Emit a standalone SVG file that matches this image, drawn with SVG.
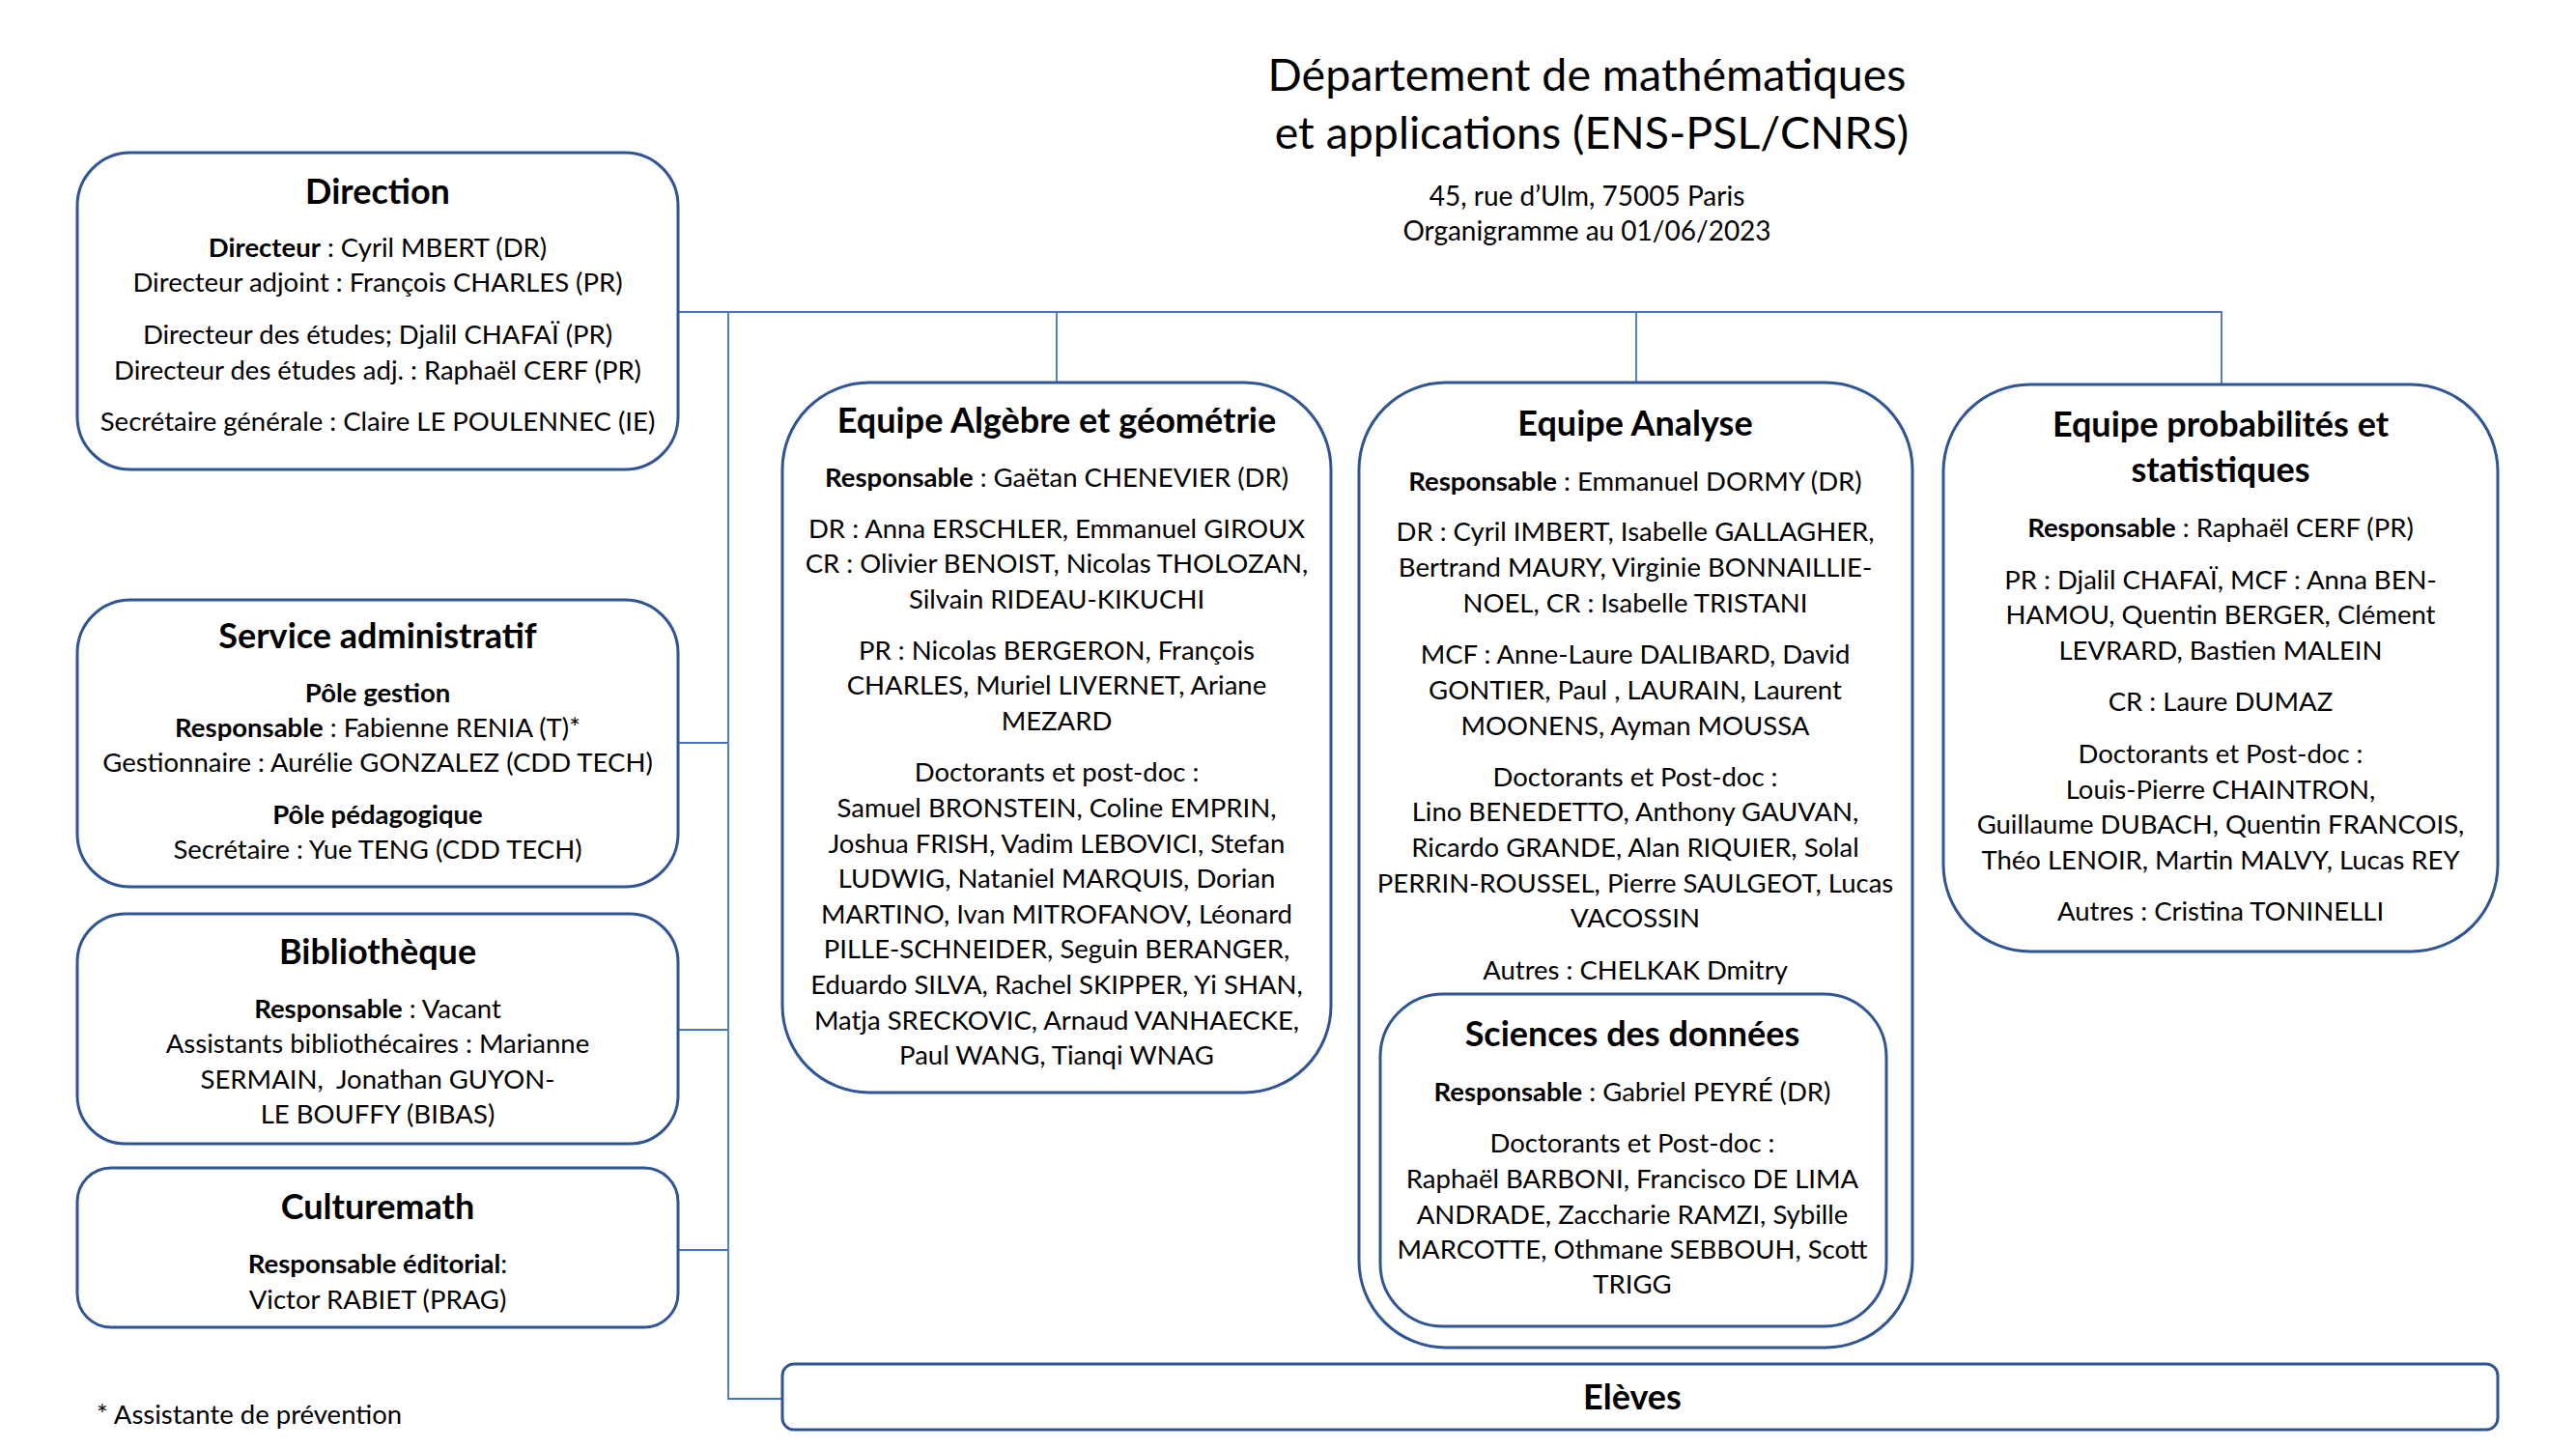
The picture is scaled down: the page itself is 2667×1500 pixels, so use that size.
<svg xmlns="http://www.w3.org/2000/svg" width="2667" height="1500" viewBox="0 0 2667 1500">
<style>
.box{fill:#ffffff;stroke:#2F5597;stroke-width:3}
.conn{fill:none;stroke:#4472C4;stroke-width:1.8}
text{font-family:Lato,"Liberation Sans",sans-serif;fill:#000000;text-anchor:middle;font-size:27.5px}
.h{font-size:36px;font-weight:bold}
.b{font-weight:bold}
.title{font-size:46.5px}
.sub{font-size:28px}
</style>
<rect width="2667" height="1500" fill="#ffffff"/>
<g id="connectors">
<path class="conn" d="M702,323 H2300 V398"/>
<path class="conn" d="M1094,323 V396"/>
<path class="conn" d="M1694,323 V396"/>
<path class="conn" d="M754,323 V1448 H810"/>
<path class="conn" d="M702,769 H754"/>
<path class="conn" d="M702,1066 H754"/>
<path class="conn" d="M702,1294 H754"/>
</g>
<g id="title">
<text class="title" x="1643" y="94">Département de mathématiques</text>
<text class="title" x="1648" y="154">et applications (ENS-PSL/CNRS)</text>
<text class="sub" x="1643" y="213">45, rue d’Ulm, 75005 Paris</text>
<text class="sub" x="1643" y="249">Organigramme au 01/06/2023</text>
</g>
<g id="direction">
<rect class="box" x="80" y="158" width="622" height="328" rx="55"/>
<text class="h" x="391" y="211">Direction</text>
<text x="391" y="266"><tspan class="b">Directeur</tspan> : Cyril MBERT (DR)</text>
<text x="391" y="302">Directeur adjoint : François CHARLES (PR)</text>
<text x="391" y="356">Directeur des études; Djalil CHAFAÏ (PR)</text>
<text x="391" y="393">Directeur des études adj. : Raphaël CERF (PR)</text>
<text x="391" y="446">Secrétaire générale : Claire LE POULENNEC (IE)</text>
</g>
<g id="service-administratif">
<rect class="box" x="80" y="621" width="622" height="297" rx="55"/>
<text class="h" x="391" y="671">Service administratif</text>
<text class="b" x="391" y="727">Pôle gestion</text>
<text x="391" y="763"><tspan class="b">Responsable</tspan> : Fabienne RENIA (T)*</text>
<text x="391" y="799">Gestionnaire : Aurélie GONZALEZ (CDD TECH)</text>
<text class="b" x="391" y="853">Pôle pédagogique</text>
<text x="391" y="889">Secrétaire : Yue TENG (CDD TECH)</text>
</g>
<g id="bibliotheque">
<rect class="box" x="80" y="946" width="622" height="238" rx="50"/>
<text class="h" x="391" y="998">Bibliothèque</text>
<text x="391" y="1054"><tspan class="b">Responsable</tspan> : Vacant</text>
<text x="391" y="1090">Assistants bibliothécaires : Marianne</text>
<text x="391" y="1127" xml:space="preserve">SERMAIN,  Jonathan GUYON-</text>
<text x="391" y="1163">LE BOUFFY (BIBAS)</text>
</g>
<g id="culturemath">
<rect class="box" x="80" y="1209" width="622" height="165" rx="35"/>
<text class="h" x="391" y="1262">Culturemath</text>
<text x="391" y="1318"><tspan class="b">Responsable éditorial</tspan>:</text>
<text x="391" y="1355">Victor RABIET (PRAG)</text>
</g>
<g id="footnote">
<text x="100" y="1474" style="text-anchor:start">* Assistante de prévention</text>
</g>
<g id="equipe-algebre">
<rect class="box" x="810" y="396" width="568" height="735" rx="90"/>
<text class="h" x="1094" y="448">Equipe Algèbre et géométrie</text>
<text x="1094" y="504"><tspan class="b">Responsable</tspan> : Gaëtan CHENEVIER (DR)</text>
<text x="1094" y="557">DR : Anna ERSCHLER, Emmanuel GIROUX</text>
<text x="1094" y="593">CR : Olivier BENOIST, Nicolas THOLOZAN,</text>
<text x="1094" y="630">Silvain RIDEAU-KIKUCHI</text>
<text x="1094" y="683">PR : Nicolas BERGERON, François</text>
<text x="1094" y="719">CHARLES, Muriel LIVERNET, Ariane</text>
<text x="1094" y="756">MEZARD</text>
<text x="1094" y="809">Doctorants et post-doc :</text>
<text x="1094" y="846">Samuel BRONSTEIN, Coline EMPRIN,</text>
<text x="1094" y="883">Joshua FRISH, Vadim LEBOVICI, Stefan</text>
<text x="1094" y="919">LUDWIG, Nataniel MARQUIS, Dorian</text>
<text x="1094" y="956">MARTINO, Ivan MITROFANOV, Léonard</text>
<text x="1094" y="992">PILLE-SCHNEIDER, Seguin BERANGER,</text>
<text x="1094" y="1029">Eduardo SILVA, Rachel SKIPPER, Yi SHAN,</text>
<text x="1094" y="1066">Matja SRECKOVIC, Arnaud VANHAECKE,</text>
<text x="1094" y="1102">Paul WANG, Tianqi WNAG</text>
</g>
<g id="equipe-analyse">
<rect class="box" x="1407" y="396" width="573" height="999" rx="90"/>
<text class="h" x="1693" y="451">Equipe Analyse</text>
<text x="1693" y="508"><tspan class="b">Responsable</tspan> : Emmanuel DORMY (DR)</text>
<text x="1693" y="560">DR : Cyril IMBERT, Isabelle GALLAGHER,</text>
<text x="1693" y="597">Bertrand MAURY, Virginie BONNAILLIE-</text>
<text x="1693" y="634">NOEL, CR : Isabelle TRISTANI</text>
<text x="1693" y="687">MCF : Anne-Laure DALIBARD, David</text>
<text x="1693" y="724">GONTIER, Paul , LAURAIN, Laurent</text>
<text x="1693" y="761">MOONENS, Ayman MOUSSA</text>
<text x="1693" y="814">Doctorants et Post-doc :</text>
<text x="1693" y="850">Lino BENEDETTO, Anthony GAUVAN,</text>
<text x="1693" y="887">Ricardo GRANDE, Alan RIQUIER, Solal</text>
<text x="1693" y="924">PERRIN-ROUSSEL, Pierre SAULGEOT, Lucas</text>
<text x="1693" y="960">VACOSSIN</text>
<text x="1693" y="1014">Autres : CHELKAK Dmitry</text>
</g>
<g id="sciences-des-donnees">
<rect class="box" x="1429" y="1029" width="524" height="344" rx="65"/>
<text class="h" x="1690" y="1083">Sciences des données</text>
<text x="1690" y="1140"><tspan class="b">Responsable</tspan> : Gabriel PEYRÉ (DR)</text>
<text x="1690" y="1193">Doctorants et Post-doc :</text>
<text x="1690" y="1230">Raphaël BARBONI, Francisco DE LIMA</text>
<text x="1690" y="1267">ANDRADE, Zaccharie RAMZI, Sybille</text>
<text x="1690" y="1303">MARCOTTE, Othmane SEBBOUH, Scott</text>
<text x="1690" y="1339">TRIGG</text>
</g>
<g id="equipe-probabilites">
<rect class="box" x="2012" y="398" width="574" height="587" rx="90"/>
<text class="h" x="2299" y="452">Equipe probabilités et</text>
<text class="h" x="2299" y="499">statistiques</text>
<text x="2299" y="556"><tspan class="b">Responsable</tspan> : Raphaël CERF (PR)</text>
<text x="2299" y="610">PR : Djalil CHAFAÏ, MCF : Anna BEN-</text>
<text x="2299" y="646">HAMOU, Quentin BERGER, Clément</text>
<text x="2299" y="683">LEVRARD, Bastien MALEIN</text>
<text x="2299" y="736">CR : Laure DUMAZ</text>
<text x="2299" y="790">Doctorants et Post-doc :</text>
<text x="2299" y="827">Louis-Pierre CHAINTRON,</text>
<text x="2299" y="863">Guillaume DUBACH, Quentin FRANCOIS,</text>
<text x="2299" y="900">Théo LENOIR, Martin MALVY, Lucas REY</text>
<text x="2299" y="953">Autres : Cristina TONINELLI</text>
</g>
<g id="eleves">
<rect class="box" x="810" y="1412" width="1776" height="68" rx="12"/>
<text class="h" x="1690" y="1459">Elèves</text>
</g>
</svg>
